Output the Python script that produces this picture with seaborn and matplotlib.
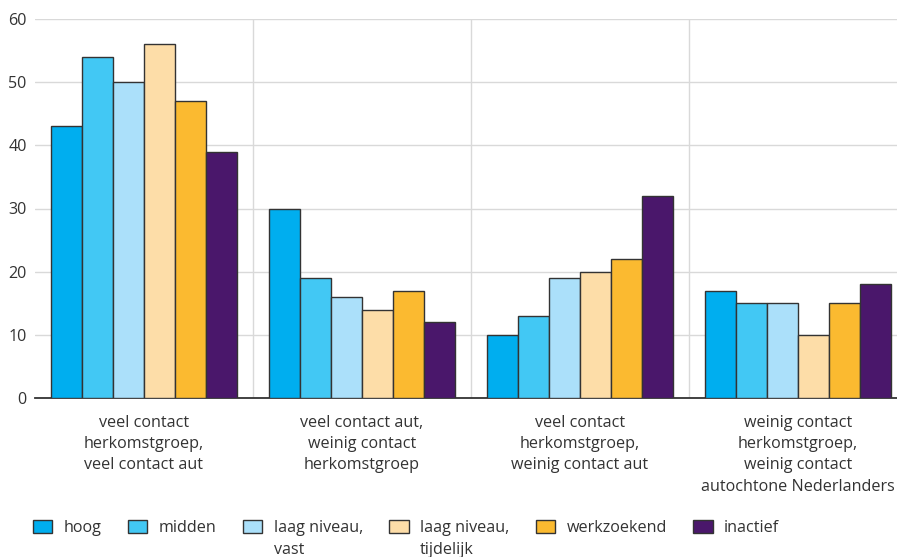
import seaborn as sns
import matplotlib.pyplot as plt
import pandas as pd
from matplotlib.patches import Patch

# categorieen op de x-as
groepen = [
    "veel contact\nherkomstgroep,\nveel contact aut",
    "veel contact aut,\nweinig contact\nherkomstgroep",
    "veel contact\nherkomstgroep,\nweinig contact aut",
    "weinig contact\nherkomstgroep,\nweinig contact\nautochtone Nederlanders",
]
niveaus = ["hoog", "midden", "laag niveau, vast", "laag niveau, tijdelijk", "werkzoekend", "inactief"]
legend_first = ["hoog", "midden", "laag niveau,", "laag niveau,", "werkzoekend", "inactief"]
legend_second = ["", "", "vast", "tijdelijk", "", ""]

hoog = [43, 30, 10, 17]
midden = [54, 19, 13, 15]
laag_vast = [50, 16, 19, 15]
laag_tijdelijk = [56, 14, 20, 10]
werkzoekend = [47, 17, 22, 15]
inactief = [39, 12, 32, 18]

kleuren = ["#00AEEF", "#42C8F4", "#ABE0FA", "#FDDDA8", "#FBBA30", "#4A176B"]

rows = []
for niveau, waarden in zip(niveaus, [hoog, midden, laag_vast, laag_tijdelijk, werkzoekend, inactief]):
    for g, v in zip(groepen, waarden):
        rows.append({"groep": g, "niveau": niveau, "waarde": v})
df = pd.DataFrame(rows)

sns.set_style("white")
plt.rcParams["font.family"] = ["Open Sans", "DejaVu Sans"]
fs = 11.6
tekst = "#333333"

fig = plt.figure(figsize=(8.97, 5.57), dpi=100)
ax = fig.add_axes([35 / 897, 159 / 557, 872 / 897, 379 / 557])

sns.barplot(data=df, x="groep", y="waarde", hue="niveau", hue_order=niveaus,
            order=groepen, palette=kleuren, saturation=1, width=0.853,
            edgecolor="#333333", linewidth=1, legend=False, ax=ax, zorder=3)

ax.set_xlim(-0.5, 3.5)
ax.set_ylim(0, 60)
ax.set_yticks(range(0, 61, 10))
ax.set_xlabel("")
ax.set_ylabel("")
ax.set_xticks([0.5, 1.5, 2.5], minor=True)
ax.grid(axis="y", color="#d9d9d9", linewidth=1, zorder=0)
ax.grid(axis="x", which="minor", color="#d9d9d9", linewidth=1, zorder=0)
ax.grid(axis="x", which="major", visible=False)
ax.set_axisbelow(True)
for s in ["top", "right", "left"]:
    ax.spines[s].set_visible(False)
ax.spines["bottom"].set_color("#333333")
ax.spines["bottom"].set_linewidth(1.3)
ax.tick_params(axis="x", which="major", length=6, width=1, color="#333333",
               direction="out", pad=6, labelsize=fs, labelcolor=tekst)
ax.tick_params(axis="x", which="minor", length=0)
ax.tick_params(axis="y", length=0, pad=6, labelsize=fs, labelcolor=tekst)
for lbl in ax.get_xticklabels():
    lbl.set_linespacing(1.45)

handles = [Patch(facecolor=c, edgecolor="#333333", linewidth=1) for c in kleuren]
leg = fig.legend(handles, legend_first, loc="center left", ncol=6,
                 bbox_to_anchor=(33 / 897, 1 - 528 / 557), frameon=False,
                 borderpad=0, borderaxespad=0, handlelength=1.2, handleheight=0.85,
                 handletextpad=0.7, columnspacing=1.65, fontsize=fs)
for t in leg.get_texts():
    t.set_color(tekst)

fig.canvas.draw()
inv = fig.transFigure.inverted()
for t, extra in zip(leg.get_texts(), legend_second):
    if extra:
        bb = t.get_window_extent()
        x0, y0 = inv.transform((bb.x0, bb.y0 - 22))
        fig.text(x0, y0, extra, fontsize=fs, color=tekst, ha="left", va="bottom")

fig.savefig("out.png", dpi=100)
